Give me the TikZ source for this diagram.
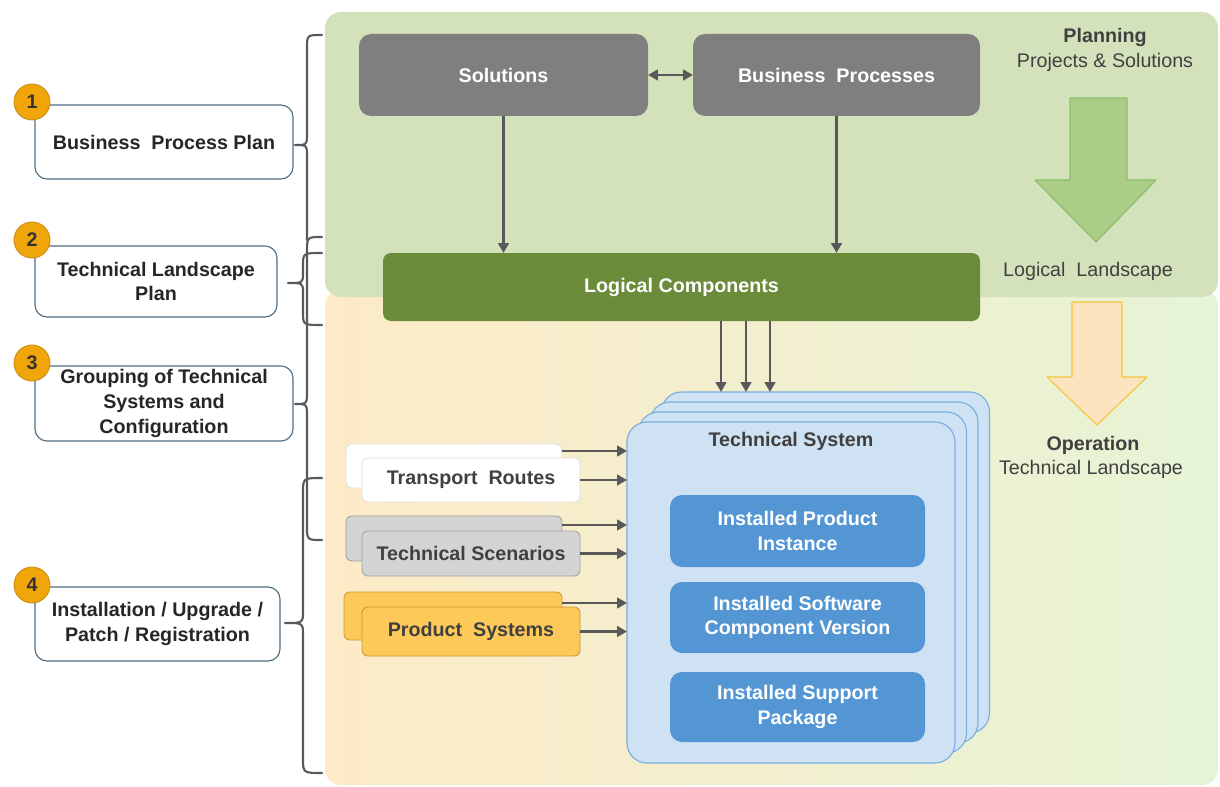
\documentclass[tikz,border=0pt]{standalone}
\usepackage{fontspec}
\setmainfont{Liberation Sans}
\usetikzlibrary{arrows.meta}
\usetikzlibrary{calc}
\usetikzlibrary{shapes}

\definecolor{planGreen}{RGB}{212,226,188}
\definecolor{opLeft}{RGB}{253,234,199}
\definecolor{opRight}{RGB}{230,244,214}
\definecolor{boxGray}{RGB}{127,127,127}
\definecolor{lcGreen}{RGB}{106,139,58}
\definecolor{tsFill}{RGB}{207,226,244}
\definecolor{tsLine}{RGB}{120,174,224}
\definecolor{instBlue}{RGB}{84,150,211}
\definecolor{arrowGray}{RGB}{89,89,89}
\definecolor{leftLine}{RGB}{80,110,130}
\definecolor{numOrange}{RGB}{240,165,10}
\definecolor{numLine}{RGB}{200,140,20}
\definecolor{textDark}{RGB}{64,64,64}
\definecolor{psFill}{RGB}{253,201,88}
\definecolor{psLine}{RGB}{200,150,50}
\definecolor{scFill}{RGB}{212,212,212}
\definecolor{scLine}{RGB}{160,160,160}
\definecolor{trLine}{RGB}{222,222,222}
\definecolor{bigGreen}{RGB}{170,206,136}
\definecolor{bigGreenLine}{RGB}{140,188,105}
\definecolor{bigOrange}{RGB}{253,228,192}
\definecolor{bigOrangeLine}{RGB}{243,196,60}

\begin{document}
\begin{tikzpicture}[x=0.025cm, y=-0.025cm, line join=round,
        box_size/.style 2 args={minimum width=#1*0.025cm, minimum height=#2*0.025cm},
        base_style/.style={rectangle, inner sep=0pt, outer sep=0pt, align=center, font=\fontsize{14}{17.5}\selectfont\bfseries},
        gray_style/.style={base_style, rounded corners=0.3cm, fill=boxGray, text=white},
        lc_style/.style={base_style, rounded corners=0.2cm, fill=lcGreen, text=white},
        ts_layer_style/.style={base_style, rounded corners=0.5cm, fill=tsFill, draw=tsLine, line width=0.8pt},
        inst_style/.style={base_style, rounded corners=0.3cm, fill=instBlue, text=white},
        side_style/.style={base_style, rounded corners=0.15cm, text=textDark, line width=0.6pt},
        plan_style/.style={base_style, rounded corners=0.3cm, fill=white, draw=leftLine, line width=0.8pt, text=black!85},
        num_style/.style={circle, inner sep=0pt, minimum size=0.9cm, fill=numOrange, draw=numLine, line width=0.6pt, font=\fontsize{14}{17}\selectfont\bfseries, text=black!80},
        note_style/.style={inner sep=0pt, text=textDark, font=\fontsize{14}{17}\selectfont},
        edge_style/.style={draw=arrowGray, line width=1.9pt, -{Triangle[length=7pt,width=7.5pt]}},
        brace_style/.style={draw=arrowGray, line width=1.5pt, line cap=round}]

        \useasboundingbox (0,0) rectangle (1220,787);

        % panels
        \shade[rounded corners=0.4cm, left color=opLeft, right color=opRight] (325,290) rectangle (1218,785);
        \fill[planGreen, rounded corners=0.4cm] (325,12) rectangle (1218,297);

        % big arrows on the right
        \draw[fill=bigGreen, draw=bigGreenLine, line width=0.8pt] (1070,98) -- (1127,98) -- (1127,180) -- (1156,180) -- (1096,242) -- (1035,180) -- (1070,180) -- cycle;
        \draw[fill=bigOrange, draw=bigOrangeLine, line width=0.8pt] (1072,302) -- (1122,302) -- (1122,377) -- (1147,377) -- (1097,425) -- (1047,377) -- (1072,377) -- cycle;

        \node[note_style, font=\fontsize{14}{17}\selectfont\bfseries] (planning) at (1105,37) {Planning};
        \node[note_style] (projects) at (1105,62) {Projects \& Solutions};
        \node[note_style] (logland) at (1088,271) {Logical\ \ Landscape};
        \node[note_style, font=\fontsize{14}{17}\selectfont\bfseries] (operation) at (1093,445) {Operation};
        \node[note_style] (techland) at (1091,469) {Technical Landscape};

        % planning boxes
        \node[gray_style, box_size={289}{82}] (sol) at (503.5,75) {Solutions};
        \node[gray_style, box_size={287}{82}] (bp) at (836.5,75) {Business\ \ Processes};
        \node[lc_style, box_size={597}{68}] (lc) at (681.5,287) {Logical Components};

        \draw [edge_style, {Triangle[length=7pt,width=7.5pt]}-{Triangle[length=7pt,width=7.5pt]}] (sol) -- (bp);
        \draw [edge_style] (sol) -- (sol |- lc.north);
        \draw [edge_style] (bp) -- (bp |- lc.north);

        % technical system stack
        \foreach \k in {3,2,1} {
            \node[ts_layer_style, box_size={328}{341}] (ts\k) at (791+11.5*\k,592.5-10*\k) {};
        }
        \node[ts_layer_style, box_size={328}{341}] (ts) at (791,592.5) {};
        \node[base_style, text=textDark] (tstitle) at (791,441) {Technical System};

        \node[inst_style, box_size={255}{72}] (ipi) at (797.5,531) {Installed Product\\Instance};
        \node[inst_style, box_size={255}{71}] (iscv) at (797.5,617.5) {Installed Software\\Component Version};
        \node[inst_style, box_size={255}{70}] (isp) at (797.5,707) {Installed Support\\Package};

        \foreach \x in {721,746,770} {
            \draw [edge_style] (lc.south -| \x,0) -- (ts3.north -| \x,0);
        }

        % side stacks
        \node[side_style, box_size={216}{44}, fill=white, draw=trLine] (trb) at (454,466) {};
        \node[side_style, box_size={218}{44}, fill=white, draw=trLine] (trf) at (471,480) {Transport\ \ Routes};
        \node[side_style, box_size={216}{45}, fill=scFill, draw=scLine] (scb) at (454,538.5) {};
        \node[side_style, box_size={218}{45}, fill=scFill, draw=scLine] (scf) at (471,553.5) {Technical Scenarios};
        \node[side_style, box_size={218}{48}, fill=psFill, draw=psLine] (psb) at (453,616) {};
        \node[side_style, box_size={218}{49}, fill=psFill, draw=psLine] (psf) at (471,631.5) {Product\ \ Systems};

        \draw [edge_style] ([yshift=-0.175cm]trb.north east) coordinate (a1) -- (a1 -| ts.west);
        \draw [edge_style] (trf.east) -- (trf.east -| ts.west);
        \draw [edge_style] ([yshift=-0.225cm]scb.north east) coordinate (a2) -- (a2 -| ts.west);
        \draw [edge_style] (scf.east) -- (scf.east -| ts.west);
        \draw [edge_style] ([yshift=-0.275cm]psb.north east) coordinate (a3) -- (a3 -| ts.west);
        \draw [edge_style] (psf.east) -- (psf.east -| ts.west);

        % steps on the left
        \node[plan_style, box_size={258}{74}] (p1) at (164,142) {Business\ \ Process Plan};
        \node[plan_style, box_size={242}{71}] (p2) at (156,281.5) {Technical Landscape\\Plan};
        \node[plan_style, box_size={258}{75}] (p3) at (164,403.5) {Grouping of Technical\\Systems and\\Configuration};
        \node[plan_style, box_size={245}{74}] (p4) at (157.5,624) {Installation / Upgrade /\\Patch / Registration};

        \node[num_style] (n1) at (32,102) {1};
        \node[num_style] (n2) at (32,240) {2};
        \node[num_style] (n3) at (32,363) {3};
        \node[num_style] (n4) at (32,585) {4};

        % braces
        \draw [brace_style] (322,35) .. controls (307,35) .. (307,48) -- (307,133) .. controls (307,145) .. (295,145) .. controls (307,145) .. (307,157) -- (307,240);
        \draw [brace_style] (322,237) .. controls (307,237) .. (307,252) -- (307,392) .. controls (307,404) .. (295,404) .. controls (307,404) .. (307,416) -- (307,526) .. controls (307,540) .. (322,540);
        \draw [brace_style] (322,253) .. controls (303,253) .. (303,266) -- (303,273) .. controls (303,283) .. (288,283) .. controls (303,283) .. (303,293) -- (303,312) .. controls (303,325) .. (322,325);
        \draw [brace_style] (322,478) .. controls (303,478) .. (303,493) -- (303,611) .. controls (303,623) .. (285,623) .. controls (303,623) .. (303,635) -- (303,758) .. controls (303,773) .. (322,773);

\end{tikzpicture}
\end{document}
